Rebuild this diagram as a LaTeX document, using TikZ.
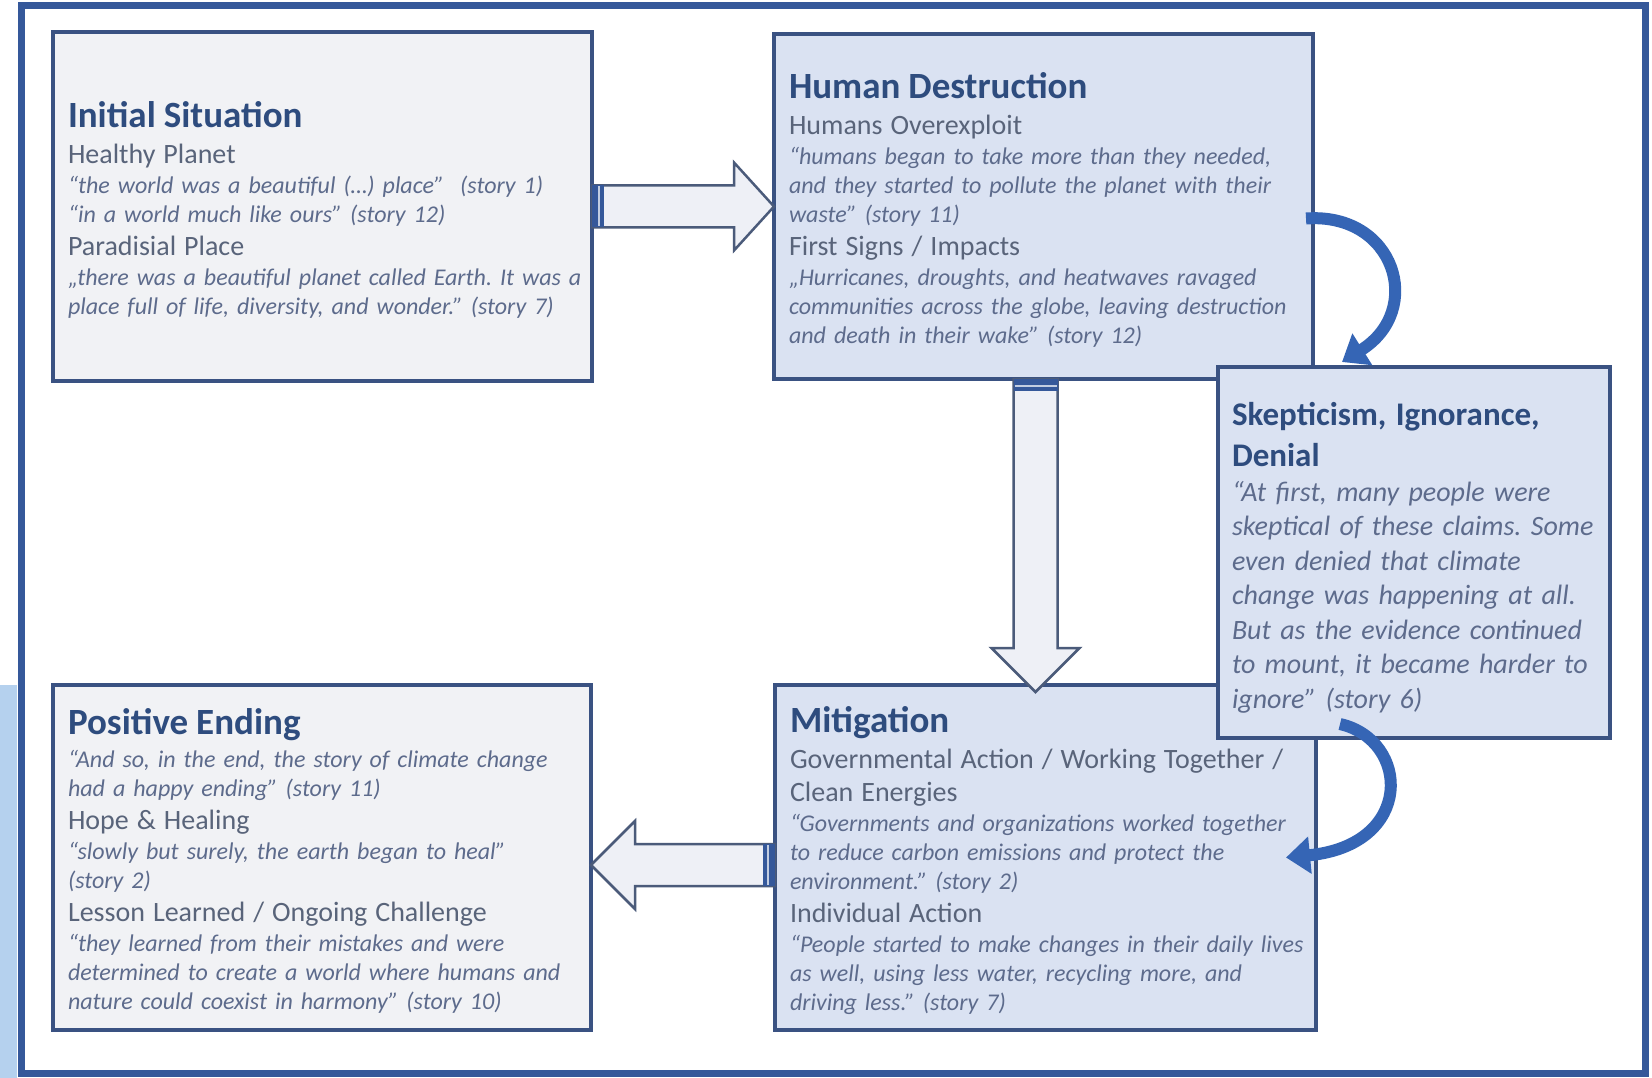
\documentclass[tikz,border=0pt]{standalone}
\usepackage{fontspec}
\setmainfont{Carlito}
\usetikzlibrary{arrows.meta,calc}

\definecolor{framebl}{HTML}{35589A}
\definecolor{boxline}{HTML}{3A5282}
\definecolor{bluefill}{HTML}{DAE2F2}
\definecolor{greyfill}{HTML}{F1F2F5}
\definecolor{titlebl}{HTML}{2E4C7E}
\definecolor{subgrey}{HTML}{59647A}
\definecolor{quotebl}{HTML}{5D6B8C}
\definecolor{curvebl}{HTML}{3565B5}
\definecolor{arrfill}{HTML}{EEF0F6}
\definecolor{arrline}{HTML}{4B5B7A}
\definecolor{deskbl}{HTML}{B5D1EE}

\frenchspacing
\newcommand{\stagetitle}[2][37]{\mbox{\rule{0pt}{33pt}\fontsize{#1}{30}\selectfont\bfseries\color{titlebl}#2}}
\newcommand{\stagesub}[1]{\mbox{\fontsize{28}{30}\selectfont\color{subgrey}#1}}
\newcommand{\stagequote}[1]{\mbox{\itshape\color{quotebl}#1}}

\begin{document}
\begin{tikzpicture}[x=1pt, y=-1pt,
    stage/.style={
        draw=boxline,
        line width=4,
        outer sep=0pt,
        inner xsep=15pt,
        inner ysep=0pt,
        align=left,
        font=\fontsize{24}{29}\selectfont},
    bluestage/.style={stage, fill=bluefill},
    greystage/.style={stage, fill=greyfill},
    blockarrow/.style={draw=arrline, fill=arrfill, line width=2.5, line join=miter},
    tailband/.style={fill=framebl},
    curvarrow/.style={draw=curvebl, line width=12, -{Triangle[width=36pt,length=24pt]}}]

    \useasboundingbox (0,0) rectangle (1652,1078);
    \fill[white] (0,0) rectangle (1652,1078);
    \fill[deskbl] (0,685) rectangle (17,1078);

    % frame
    \draw[framebl, line width=7] (21,6) rectangle (1645,1073);

    % stages
    \node[greystage, minimum width=539, minimum height=349, text width=509] (init) at (322.5,206.5) {%
        \stagetitle{Initial Situation}\\[7pt]
        \stagesub{Healthy Planet}\\[1pt]
        \stagequote{“the world was a beautiful (…) place”~ (story 1)}\\
        \stagequote{“in a world much like ours” (story 12)}\\[4pt]
        \stagesub{Paradisial Place}\\[1pt]
        \stagequote{„there was a beautiful planet called Earth. It was a}\\
        \stagequote{place full of life, diversity, and wonder.” (story 7)}};

    \node[bluestage, minimum width=539, minimum height=345, text width=509] (hd) at (1043.5,206.5) {%
        \stagetitle{Human Destruction}\\[7pt]
        \stagesub{Humans Overexploit}\\[1pt]
        \stagequote{“humans began to take more than they needed,}\\
        \stagequote{and they started to pollute the planet with their}\\
        \stagequote{waste” (story 11)}\\[4pt]
        \stagesub{First Signs / Impacts}\\[1pt]
        \stagequote{„Hurricanes, droughts, and heatwaves ravaged}\\
        \stagequote{communities across the globe, leaving destruction}\\
        \stagequote{and death in their wake” (story 12)}};

    \node[greystage, minimum width=538, minimum height=345, text width=508] (pos) at (322,857.5) {%
        \stagetitle{Positive Ending}\\[4pt]
        \stagequote{“And so, in the end, the story of climate change}\\
        \stagequote{had a happy ending” (story 11)}\\[4pt]
        \stagesub{Hope \& Healing}\\[1pt]
        \stagequote{“slowly but surely, the earth began to heal”}\\
        \stagequote{(story 2)}\\[4pt]
        \stagesub{Lesson Learned / Ongoing Challenge}\\[1pt]
        \stagequote{“they learned from their mistakes and were}\\
        \stagequote{determined to create a world where humans and}\\
        \stagequote{nature could coexist in harmony” (story 10)}};

    \node[bluestage, minimum width=541, minimum height=345, text width=511] (mit) at (1045.5,857.5) {%
        \stagetitle{Mitigation}\\[7pt]
        \stagesub{Governmental Action / Working Together /}\\[4pt]
        \stagesub{Clean Energies}\\[1pt]
        \stagequote{“Governments and organizations worked together}\\
        \stagequote{to reduce carbon emissions and protect the}\\
        \stagequote{environment.” (story 2)}\\[4pt]
        \stagesub{Individual Action}\\[1pt]
        \stagequote{“People started to make changes in their daily lives}\\
        \stagequote{as well, using less water, recycling more, and}\\
        \stagequote{driving less.” (story 7)}};

    \node[bluestage, minimum width=392, minimum height=371, text width=364, inner xsep=14pt,
        font=\fontsize{28}{34.5}\selectfont] (sk) at (1414,552.5) {%
        \stagetitle[33]{Skepticism, Ignorance,}\\[2pt]
        \stagetitle[33]{Denial}\\[0pt]
        \stagequote{“At first, many people were}\\
        \stagequote{skeptical of these claims. Some}\\
        \stagequote{even denied that climate}\\
        \stagequote{change was happening at all.}\\
        \stagequote{But as the evidence continued}\\
        \stagequote{to mount, it became harder to}\\
        \stagequote{ignore” (story 6)}};

    % block arrows
    \coordinate (a1s) at (init.east);
    \coordinate (a1e) at (hd.west);
    \draw[blockarrow] ([yshift=21]a1s) -- ([xshift=-40,yshift=21]a1e) -- ([xshift=-40,yshift=44]a1e)
        -- (a1e) -- ([xshift=-40,yshift=-44]a1e) -- ([xshift=-40,yshift=-21]a1e) -- ([yshift=-21]a1s) -- cycle;
    \fill[tailband] ([yshift=21]a1s) rectangle ([xshift=12,yshift=-21]a1s);
    \draw[white!70!framebl, line width=1.5] ([xshift=7,yshift=20]a1s) -- ([xshift=7,yshift=-20]a1s);

    \coordinate (a2s) at ([xshift=-8]hd.south);
    \coordinate (a2e) at ([yshift=-7]a2s |- mit.north);
    \draw[blockarrow] ([xshift=-22]a2s) -- ([xshift=-22,yshift=44]a2e) -- ([xshift=-44,yshift=44]a2e)
        -- (a2e) -- ([xshift=44,yshift=44]a2e) -- ([xshift=22,yshift=44]a2e) -- ([xshift=22]a2s) -- cycle;
    \fill[tailband] ([xshift=-22]a2s) rectangle ([xshift=22,yshift=-12]a2s);
    \draw[white!70!framebl, line width=1.5] ([xshift=-21,yshift=-7]a2s) -- ([xshift=21,yshift=-7]a2s);

    \coordinate (a3s) at ([yshift=-7.5]mit.west);
    \coordinate (a3e) at (a3s -| pos.east);
    \draw[blockarrow] ([yshift=21]a3s) -- ([xshift=44,yshift=21]a3e) -- ([xshift=44,yshift=44]a3e)
        -- (a3e) -- ([xshift=44,yshift=-44]a3e) -- ([xshift=44,yshift=-21]a3e) -- ([yshift=-21]a3s) -- cycle;
    \fill[tailband] ([yshift=21]a3s) rectangle ([xshift=-12,yshift=-21]a3s);
    \draw[white!70!framebl, line width=1.5] ([xshift=-7,yshift=20]a3s) -- ([xshift=-7,yshift=-20]a3s);

    % curved arrows
    \draw[curvarrow] ([xshift=-7,yshift=-12]hd.east) .. controls (1395,212) and (1425,310) .. ([xshift=-72,yshift=5]sk.north);
    \draw[curvarrow] ([xshift=-74,yshift=14]sk.south) .. controls (1410,740) and (1415,845) .. ([xshift=-30]mit.east);
\end{tikzpicture}
\end{document}
